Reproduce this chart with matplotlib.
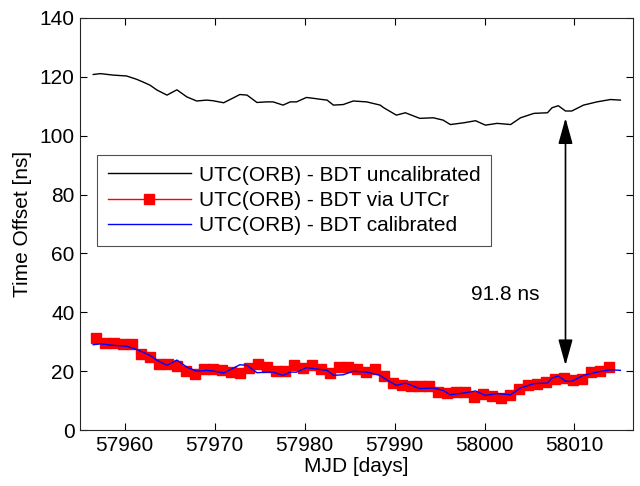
import matplotlib
matplotlib.use("Agg")
import matplotlib.pyplot as plt
import numpy as np

plt.rcParams['font.family'] = ['Liberation Sans', 'DejaVu Sans']

# Uncalibrated UTC(ORB) - BDT (ns)
mjd_uncal = [57956.5, 57957.3, 57958.7, 57960.2, 57961.3, 57962.0, 57962.8, 57963.6,
             57964.7, 57965.8, 57966.9, 57968.0, 57969.1, 57969.8, 57971.0, 57972.1,
             57972.8, 57973.6, 57974.7, 57975.8, 57976.5, 57977.6, 57978.4, 57979.1,
             57980.2, 57981.0, 57981.7, 57982.5, 57983.2, 57984.3, 57985.4, 57986.9,
             57988.4, 57988.8, 57990.2, 57991.2, 57992.8, 57994.3, 57995.4, 57996.2,
             57997.7, 57999.0, 58000.1, 58001.4, 58002.9, 58004.0, 58005.5, 58007.0,
             58007.5, 58008.2, 58009.0, 58009.7, 58011.0, 58012.5, 58014.0, 58015.1]
uncal = [120.8, 121.1, 120.6, 120.3, 119.2, 118.3, 117.2, 115.5,
         113.8, 115.6, 113.2, 111.8, 112.1, 111.9, 111.2, 112.9,
         114.0, 113.8, 111.3, 111.5, 111.5, 110.4, 111.5, 111.5,
         113.0, 112.7, 112.4, 112.1, 110.4, 110.6, 111.8, 111.5,
         110.4, 109.5, 107.0, 107.8, 105.9, 106.1, 105.3, 103.8,
         104.4, 105.1, 103.6, 104.2, 103.8, 106.1, 107.6, 107.8,
         109.5, 110.2, 108.4, 108.4, 110.4, 111.5, 112.3, 112.1]

# Calibrated UTC(ORB) - BDT (ns)
cal = [29.0, 29.3, 28.8, 28.5, 27.4, 26.5, 25.4, 23.7,
       22.0, 23.8, 21.4, 20.0, 20.3, 20.1, 19.4, 21.1,
       22.2, 22.0, 19.5, 19.7, 19.7, 18.6, 19.7, 19.7,
       21.2, 20.9, 20.6, 20.3, 18.6, 18.8, 20.0, 19.7,
       18.6, 17.7, 15.2, 16.0, 14.1, 14.3, 13.5, 12.0,
       12.6, 13.3, 11.8, 12.4, 12.0, 14.3, 15.8, 16.0,
       17.7, 18.4, 16.6, 16.6, 18.6, 19.7, 20.5, 20.3]

# UTC(ORB) - BDT via UTCr, daily (ns)
mjd_utcr = list(np.arange(57956.8, 58014.0, 1.0))
utcr = [31.2, 29.6, 29.6, 29.4, 29.1, 25.9, 24.8, 22.6, 22.4, 21.7,
        20.0, 19.0, 20.7, 20.6, 20.4, 19.6, 19.5, 21.1, 22.4, 21.6,
        20.2, 20.0, 22.2, 21.2, 22.2, 20.6, 19.3, 21.5, 21.4, 20.6,
        19.9, 20.6, 18.4, 16.1, 15.4, 15.1, 15.0, 15.0, 12.8, 12.5,
        12.9, 12.8, 11.1, 12.2, 11.6, 10.8, 11.9, 13.8, 15.3, 15.6,
        16.4, 17.2, 17.6, 17.0, 17.2, 19.8, 20.1, 21.6]

FS = 15

fig = plt.figure(figsize=(6.4, 4.86), dpi=100)
ax = fig.add_axes([0.125, 0.115, 0.864, 0.848])

ax.plot(mjd_uncal, uncal, color='black', lw=1.0, label='UTC(ORB) - BDT uncalibrated')
ax.plot(mjd_utcr, utcr, color='red', lw=1.0, marker='s', markersize=7,
        markeredgecolor='red', markerfacecolor='red', label='UTC(ORB) - BDT via UTCr')
ax.plot(mjd_uncal, cal, color='blue', lw=1.0, label='UTC(ORB) - BDT calibrated')

ax.annotate('', xy=(58009.0, 106), xytext=(58009.0, 22.0),
            arrowprops=dict(arrowstyle='<|-|>,head_length=0.72,head_width=0.2',
                            color='black', lw=1.2,
                            mutation_scale=22, shrinkA=0, shrinkB=0))
ax.text(58002.3, 46, '91.8 ns', fontsize=FS, ha='center', va='center')

ax.set_xlim(57955.03, 58016.5)
ax.set_ylim(0, 140)
ax.set_xticks([57960, 57970, 57980, 57990, 58000, 58010])
ax.set_yticks(np.arange(0, 141, 20))
ax.tick_params(direction='in', top=True, right=True, labelsize=FS, length=5, width=0.8, pad=4)
for s in ax.spines.values():
    s.set_linewidth(0.8)
    s.set_color('#262626')
ax.set_xlabel('MJD [days]', fontsize=FS, labelpad=2)
ax.set_ylabel('Time Offset [ns]', fontsize=FS, labelpad=5)

leg = ax.legend(loc='upper left', bbox_to_anchor=(0.031, 0.667), fontsize=FS,
                frameon=True, fancybox=False, edgecolor='#262626', handlelength=4.0,
                borderpad=0.5, labelspacing=0.3, handletextpad=0.4, borderaxespad=0)
leg.get_frame().set_linewidth(0.8)

fig.savefig('out.png', dpi=100)
